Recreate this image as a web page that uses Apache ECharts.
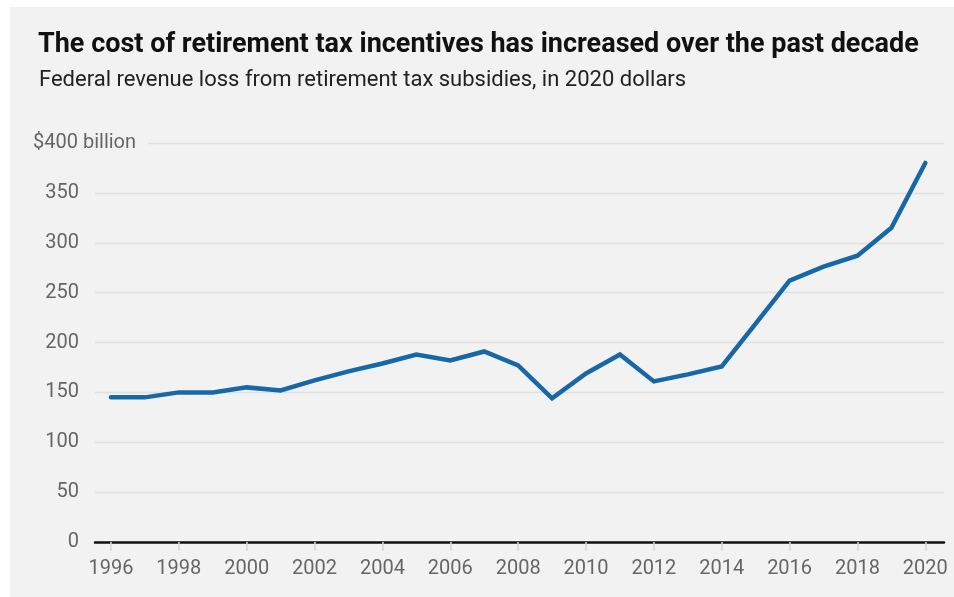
<!DOCTYPE html>
<html>
<head>
<meta charset="utf-8">
<script src="https://cdn.jsdelivr.net/npm/echarts@6/dist/echarts.min.js"></script>
<style>
  html, body { margin: 0; padding: 0; background: #ffffff; }
  #chart { width: 954px; height: 597px; }
</style>
</head>
<body>
<div id="chart"></div>
<script>
// Federal revenue loss from retirement tax subsidies (billions, 2020 dollars)
const years = [1996, 1997, 1998, 1999, 2000, 2001, 2002, 2003, 2004, 2005, 2006, 2007, 2008,
               2009, 2010, 2011, 2012, 2013, 2014, 2015, 2016, 2017, 2018, 2019, 2020];
const revenueLoss = [145, 145, 150, 150, 155, 152, 162, 171, 179, 188, 182, 191, 177,
                     144, 169, 188, 161, 168, 176, 219, 262, 276, 287, 315, 380];
const yearTicks = [1996, 1998, 2000, 2002, 2004, 2006, 2008, 2010, 2012, 2014, 2016, 2018, 2020];
const valueTicks = [0, 50, 100, 150, 200, 250, 300, 350, 400];
const topTickLabel = '$400 billion';

const titleText = 'The cost of retirement tax incentives has increased over the past decade';
const subtitleText = 'Federal revenue loss from retirement tax subsidies, in 2020 dollars';

const FONT = 'Roboto, "Noto Sans", sans-serif';
const PANEL = '#f2f2f2';

const chart = echarts.init(document.getElementById('chart'), null, { renderer: 'canvas' });

const panelRect = {
  type: 'rect', z: -100, silent: true,
  shape: { x: 10, y: 7, width: 944, height: 590 },
  style: { fill: PANEL }
};

const option = {
  backgroundColor: '#ffffff',
  animation: false,
  title: [
    {
      text: titleText,
      left: 33, top: 27,
      textStyle: { fontFamily: FONT, fontSize: 27, fontWeight: 'bold', color: '#111111' }
    },
    {
      text: subtitleText,
      left: 34, top: 64,
      textStyle: { fontFamily: FONT, fontSize: 22, fontWeight: 'normal', color: '#222222' }
    }
  ],
  grid: { left: 95, right: 10, top: 143, bottom: 55, containLabel: false },
  xAxis: {
    type: 'value',
    min: 1995.53,
    max: 2020.55,
    axisLine: { show: true, lineStyle: { color: '#111111', width: 2.5 } },
    axisTick: {
      show: true, length: 9, inside: false,
      customValues: yearTicks,
      lineStyle: { color: '#d9d9d9', width: 1.5 }
    },
    axisLabel: {
      customValues: yearTicks,
      margin: 17,
      fontFamily: FONT, fontSize: 20, color: '#666666',
      formatter: v => String(Math.round(v))
    },
    splitLine: { show: false }
  },
  yAxis: {
    type: 'value',
    min: 0, max: 400, interval: 50,
    axisLine: { show: false },
    axisTick: { show: false },
    axisLabel: {
      margin: 16,
      fontFamily: FONT, fontSize: 20, color: '#666666',
      formatter: v => (v === valueTicks[valueTicks.length - 1] ? '' : String(v))
    },
    splitLine: { show: true, lineStyle: { color: '#e0e0e0', width: 1.3 } }
  },
  series: [
    {
      type: 'line',
      data: years.map((y, i) => [y, revenueLoss[i]]),
      showSymbol: false,
      symbol: 'none',
      lineStyle: { color: '#1868a7', width: 4.5, cap: 'round', join: 'miter' },
      z: 5
    }
  ],
  graphic: [panelRect]
};

chart.setOption(option);

// Top value label sits on its own gridline, masking the start of it
const topY = chart.convertToPixel({ yAxisIndex: 0 }, valueTicks[valueTicks.length - 1]);
chart.setOption({
  graphic: [
    panelRect,
    {
      type: 'text', z: 50, silent: true,
      x: 33, y: topY,
      style: {
        text: topTickLabel,
        fontFamily: FONT, fontSize: 20, fill: '#666666',
        verticalAlign: 'middle', align: 'left',
        backgroundColor: PANEL,
        padding: [2, 12, 2, 0]
      }
    }
  ]
});
</script>
</body>
</html>
